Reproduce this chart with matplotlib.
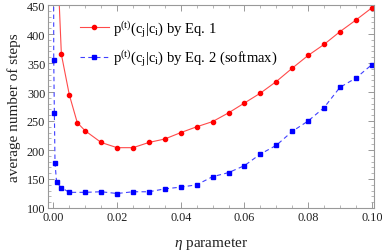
import matplotlib
matplotlib.use("Agg")
import matplotlib.pyplot as plt
from matplotlib.ticker import MultipleLocator

plt.rcParams['font.family'] = ['Liberation Serif', 'DejaVu Serif']
plt.rcParams['mathtext.fontset'] = 'custom'
plt.rcParams['mathtext.rm'] = 'Liberation Serif'
plt.rcParams['mathtext.it'] = 'Liberation Serif:italic'

# Data
eta_eq1 = [0.001, 0.0025, 0.005, 0.0075, 0.01, 0.015, 0.02, 0.025, 0.03, 0.035,
           0.04, 0.045, 0.05, 0.055, 0.06, 0.065, 0.07, 0.075, 0.08, 0.085,
           0.09, 0.095, 0.1]
steps_eq1 = [560, 365, 295, 247, 233, 213, 204, 204, 213, 219,
             230, 240, 249, 264, 281, 298, 318, 341, 363, 382,
             404, 424, 445]

eta_eq2 = [0.00005, 0.0001, 0.0003, 0.0005, 0.001, 0.0025, 0.005, 0.01, 0.015,
           0.02, 0.025, 0.03, 0.035, 0.04, 0.045, 0.05, 0.055, 0.06, 0.065,
           0.07, 0.075, 0.08, 0.085, 0.09, 0.095, 0.1]
steps_eq2 = [600, 355, 264, 178, 144, 135, 127, 127, 128,
             125, 128, 128, 133, 136, 140, 154, 161, 173, 193,
             208, 232, 250, 273, 308, 324, 347]

label_eq1 = r'$\mathrm{p^{(t)}(c_j|c_i)}$ by Eq. 1'
label_eq2 = r'$\mathrm{p^{(t)}(c_j|c_i)}$ by Eq. 2 (softmax)'
xticks = [0.00, 0.02, 0.04, 0.06, 0.08, 0.10]
yticks = [100, 150, 200, 250, 300, 350, 400, 450]

fig = plt.figure(figsize=(3.82, 2.51), dpi=100)
ax = fig.add_axes([48/382, 1 - 209/251, (374-48)/382, (209-6)/251])

ax.plot(eta_eq1, steps_eq1, color='#ff4a4a', lw=0.8, marker='o', ms=3.0,
        mfc='#ff0000', mec='#ff0000', label=label_eq1)
ax.plot(eta_eq2, steps_eq2, color='#4040ff', lw=0.8, ls=(0, (4, 3)), marker='s', ms=2.8,
        mfc='#0000ff', mec='#0000ff', label=label_eq2)

ax.set_xlim(-0.0017, 0.1007)
ax.set_ylim(100, 450)
ax.set_xticks(xticks)
ax.set_xticklabels(['%.2f' % v for v in xticks])
ax.set_yticks(yticks)
ax.xaxis.set_minor_locator(MultipleLocator(0.005))
ax.yaxis.set_minor_locator(MultipleLocator(10))
ax.tick_params(which='both', direction='in', top=True, right=True,
               color='#999999', labelsize=8.8, labelcolor='#222222')
ax.tick_params(which='major', length=4, width=0.7)
ax.tick_params(which='minor', length=2, width=0.5)
ax.tick_params(axis='x', pad=2)
ax.tick_params(axis='y', pad=2)
for s in ax.spines.values():
    s.set_color('#999999')
    s.set_linewidth(0.8)

ax.set_xlabel(r'$\mathit{\eta}$ parameter', fontsize=11, color='#222222', labelpad=9)
ax.set_ylabel('average number of steps', fontsize=11, color='#222222', labelpad=4)

ax.legend(loc='upper left', bbox_to_anchor=(0.08, 0.965), frameon=False, fontsize=10.5,
          handlelength=2.0, handletextpad=0.3, labelspacing=0.6, borderaxespad=0)

fig.savefig('out.png', dpi=100)
